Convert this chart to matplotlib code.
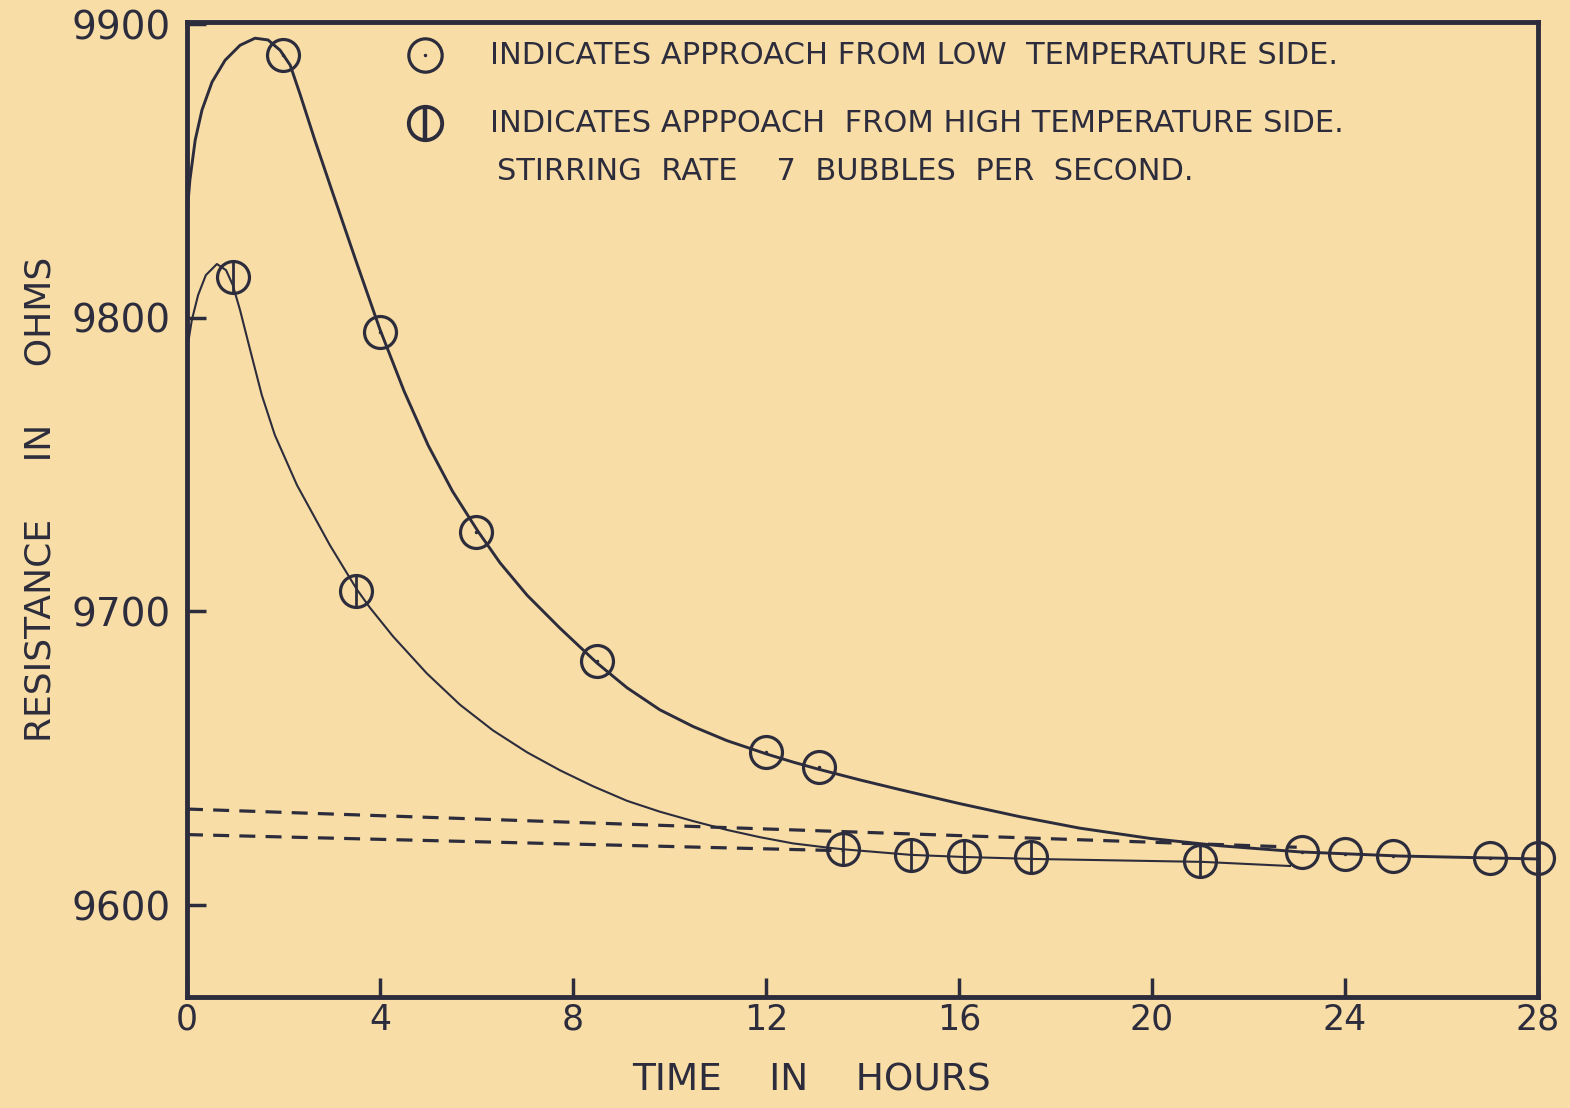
import numpy as np
import matplotlib.pyplot as plt

# points (hours, ohms)
low_side_t = [2.0, 4.0, 6.0, 8.5, 12.0, 13.1, 23.1, 24.0, 25.0, 27.0, 28.0]
low_side_r = [9889.5, 9795, 9727, 9683, 9652, 9647, 9618, 9617.3, 9616.8, 9616, 9616]

high_side_t = [0.95, 3.5, 13.6, 15.0, 16.1, 17.5, 21.0]
high_side_r = [9814, 9707, 9619, 9617, 9616.7, 9616.3, 9615]

# hand drawn curves, traced point by point
upper_curve_t = [0.0, 0.06, 0.17, 0.31, 0.52, 0.79, 1.10, 1.41, 1.68, 1.93, 2.14, 2.35,
                 2.65, 3.0, 3.5, 4.0, 4.5, 5.0, 5.5, 6.03, 6.49, 7.05, 7.73, 8.5,
                 9.12, 9.8, 10.49, 11.19, 12.04, 12.56, 13.08, 13.95, 14.78, 16.0,
                 17.26, 18.5, 19.96, 21.4, 23.07, 25.14, 28.0]
upper_curve_r = [9835, 9846.9, 9860.5, 9870.7, 9880.3, 9887.7, 9892.8, 9895.2, 9894.6,
                 9891.1, 9886.0, 9875.8, 9860.5, 9843.5, 9819.5, 9796, 9775, 9756.5,
                 9741, 9727.3, 9716.5, 9705.5, 9694.3, 9682.4, 9674.0, 9666.5, 9660.8,
                 9656.0, 9651.3, 9648.7, 9646.3, 9642.6, 9639.3, 9634.6, 9630.1, 9626.2,
                 9622.7, 9620.2, 9618.1, 9616.7, 9615.7]

lower_curve_t = [0.0, 0.1, 0.23, 0.39, 0.62, 0.81, 0.95, 1.10, 1.31, 1.55, 1.82, 2.28,
                 2.96, 3.52, 3.79, 4.27, 4.97, 5.66, 6.34, 7.05, 7.73, 8.41, 9.12, 9.80,
                 10.49, 11.19, 11.88, 12.56, 13.26, 13.6, 15.0, 16.06, 17.55, 21.06, 22.86]
lower_curve_r = [9789, 9799.2, 9807.7, 9814.5, 9818.3, 9816.2, 9811.1, 9802.6, 9789,
                 9773.7, 9760.1, 9743.0, 9722.6, 9707.5, 9701.3, 9691.5, 9678.9, 9668.2,
                 9659.5, 9652.0, 9645.9, 9640.5, 9635.5, 9631.8, 9628.6, 9625.6, 9623.1,
                 9621.0, 9619.6, 9619.0, 9617.1, 9616.4, 9615.7, 9614.7, 9613.3]

# the two dashed guide lines
dash1_t = [0.0, 23.0]
dash1_r = [9632.7, 9619.7]
dash2_t = [0.0, 13.6]
dash2_r = [9624.0, 9618.5]

x_ticks = [0, 4, 8, 12, 16, 20, 24, 28]
y_ticks = [9600, 9700, 9800, 9900]

legend_lines = ["INDICATES APPROACH FROM LOW  TEMPERATURE SIDE.",
                "INDICATES APPPOACH  FROM HIGH TEMPERATURE SIDE.",
                "STIRRING  RATE    7  BUBBLES  PER  SECOND."]

paper = "#f8dea6"
ink = "#2c2c3c"

fig = plt.figure(figsize=(15.7, 11.08), dpi=100, facecolor=paper)
ax = fig.add_axes([0.1191, 0.1002, 0.8605, 0.8799], facecolor=paper)

ax.plot(upper_curve_t, upper_curve_r, color=ink, lw=2.1, solid_joinstyle="round")
ax.plot(lower_curve_t, lower_curve_r, color=ink, lw=1.5, solid_joinstyle="round")
ax.plot(dash1_t, dash1_r, color=ink, lw=2.3, dashes=(5, 3.2))
ax.plot(dash2_t, dash2_r, color=ink, lw=2.3, dashes=(5, 3.2))

# circles with a dot: approach from the low temperature side
ax.plot(low_side_t, low_side_r, ls="none", marker="o", ms=23, mfc="none",
        mec=ink, mew=2.3, clip_on=False)
ax.plot(low_side_t, low_side_r, ls="none", marker=".", ms=3, color=ink, clip_on=False)
# circles with a bar: approach from the high temperature side
ax.plot(high_side_t, high_side_r, ls="none", marker="o", ms=23, mfc="none",
        mec=ink, mew=2.3, clip_on=False)
ax.plot(high_side_t, high_side_r, ls="none", marker="|", ms=23, mec=ink, mew=2.0,
        clip_on=False)

# legend written into the plot
ax.plot([0.176], [0.966], transform=ax.transAxes, marker="o", ms=24, mfc="none",
        mec=ink, mew=2.3, clip_on=False)
ax.plot([0.176], [0.966], transform=ax.transAxes, marker=".", ms=3, color=ink)
ax.plot([0.176], [0.896], transform=ax.transAxes, marker="o", ms=24, mfc="none",
        mec=ink, mew=2.8, clip_on=False)
ax.plot([0.176], [0.896], transform=ax.transAxes, marker="|", ms=24, mec=ink, mew=3.2)
text_kw = dict(transform=ax.transAxes, fontsize=22, color=ink, va="center", ha="left",
               family="DejaVu Sans")
ax.text(0.224, 0.966, legend_lines[0], **text_kw)
ax.text(0.224, 0.896, legend_lines[1], **text_kw)
ax.text(0.2295, 0.847, legend_lines[2], **text_kw)

ax.set_xlim(0, 28)
ax.set_ylim(9568.7, 9900.7)
ax.set_xticks(x_ticks)
ax.set_yticks(y_ticks)
ax.tick_params(direction="in", length=14, width=2.5, color=ink, labelcolor=ink)
ax.tick_params(axis="x", labelsize=25, pad=4)
ax.tick_params(axis="y", labelsize=28, pad=12)
for s in ax.spines.values():
    s.set_linewidth(3.5)
    s.set_color(ink)

ax.set_xlabel("TIME    IN    HOURS", fontsize=27, color=ink)
ax.xaxis.set_label_coords(0.4626, -0.0675)
ax.set_ylabel("RESISTANCE     IN     OHMS", fontsize=26, color=ink)
ax.yaxis.set_label_coords(-0.096, 0.51)

fig.savefig("out.png", dpi=100, facecolor=paper)
